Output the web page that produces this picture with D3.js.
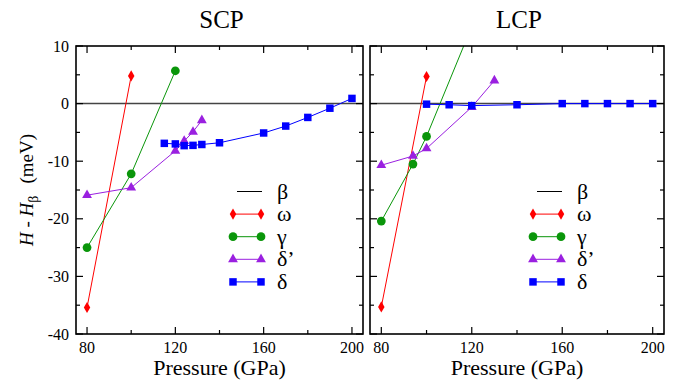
<!DOCTYPE html>
<html lang="en">
<head>
<meta charset="utf-8">
<title>SCP / LCP enthalpy</title>
<script src="https://cdn.jsdelivr.net/npm/d3@7"></script>
<style>
  body { margin: 0; background: #fff; }
  svg text { font-family: "Liberation Serif", "DejaVu Serif", serif; fill: #000; }
</style>
</head>
<body>
<script>
// data (pressure in GPa, H - H_beta in meV)
var scpOmega = [[80, -35.4], [100, 4.8]];
var scpGamma = [[80, -25.0], [100, -12.2], [120, 5.7]];
var scpDeltaP = [[80, -15.9], [100, -14.6], [120, -8.2], [124, -6.5], [128, -4.9], [132, -2.9]];
var scpDelta = [[115, -6.9], [120, -7.0], [124, -7.3], [128, -7.25], [132, -7.1], [140, -6.8],
                [160, -5.1], [170, -3.9], [180, -2.4], [190, -0.8], [200, 0.9]];

var lcpOmega = [[80, -35.3], [100, 4.7]];
var lcpGamma = [[80, -20.4], [94, -10.5], [100, -5.7], [120, 13.4]];
var lcpDeltaP = [[80, -10.7], [94, -9.1], [100, -7.8], [120, -0.6], [130, 4.0]];
var lcpDelta = [[100, -0.1], [110, -0.2], [120, -0.35], [140, -0.2], [160, 0], [170, 0],
                [180, 0], [190, 0], [200, 0]];

var xTicks = [80, 100, 120, 140, 160, 180, 200];
var xLabels = [80, 120, 160, 200];
var yTicks = [10, 5, 0, -5, -10, -15, -20, -25, -30, -35, -40];
var yLabels = [10, 0, -10, -20, -30, -40];

var legendNames = ["β", "ω", "γ", "δ’", "δ"];

var W = 681, H = 384;
var svg = d3.select("body").append("svg").attr("width", W).attr("height", H);

var series = [
  {name: "ω", color: "#ff0000", sym: d3.symbolDiamond, size: 36},
  {name: "γ", color: "#0a960a", sym: d3.symbolCircle, size: 60},
  {name: "δ’", color: "#9a20e0", sym: d3.symbolTriangle, size: 42},
  {name: "δ", color: "#0000ff", sym: d3.symbolSquare, size: 56}
];

var panels = [
  {title: "SCP", left: 76, right: 363, data: [scpOmega, scpGamma, scpDeltaP, scpDelta], yLab: true, legX: 233},
  {title: "LCP", left: 370, right: 664, data: [lcpOmega, lcpGamma, lcpDeltaP, lcpDelta], yLab: false, legX: 533}
];
var plotTop = 46, plotBottom = 334;

var y = d3.scaleLinear().domain([10, -40]).range([plotTop, plotBottom]);

panels.forEach(function(p, pi) {
  var x = d3.scaleLinear().domain([75, 205]).range([p.left, p.right]);
  var g = svg.append("g");
  var clipId = "clip" + pi;
  svg.append("clipPath").attr("id", clipId).append("rect")
    .attr("x", p.left).attr("y", plotTop).attr("width", p.right - p.left).attr("height", plotBottom - plotTop);

  // beta reference line
  g.append("line")
    .attr("x1", p.left).attr("x2", p.right)
    .attr("y1", y(0)).attr("y2", y(0))
    .attr("stroke", "#444").attr("stroke-width", 1.5);

  var line = d3.line().x(function(d) { return x(d[0]); }).y(function(d) { return y(d[1]); });
  var plot = g.append("g").attr("clip-path", "url(#" + clipId + ")");

  p.data.forEach(function(pts, si) {
    var s = series[si];
    plot.append("path").datum(pts)
      .attr("d", line).attr("fill", "none")
      .attr("stroke", s.color).attr("stroke-width", 1);
    plot.selectAll(".m" + si).data(pts).enter().append("path")
      .attr("transform", function(d) { return "translate(" + x(d[0]) + "," + y(d[1]) + ")"; })
      .attr("d", d3.symbol().type(s.sym).size(s.size))
      .attr("fill", s.color);
  });

  // frame
  g.append("rect")
    .attr("x", p.left).attr("y", plotTop).attr("width", p.right - p.left).attr("height", plotBottom - plotTop)
    .attr("fill", "none").attr("stroke", "#000").attr("stroke-width", 1.6);

  // ticks (inside, on all four sides)
  xTicks.forEach(function(t) {
    var len = xLabels.indexOf(t) >= 0 ? 7 : 4;
    g.append("line").attr("x1", x(t)).attr("x2", x(t)).attr("y1", plotBottom).attr("y2", plotBottom - len)
      .attr("stroke", "#000").attr("stroke-width", 1.2);
    g.append("line").attr("x1", x(t)).attr("x2", x(t)).attr("y1", plotTop).attr("y2", plotTop + len)
      .attr("stroke", "#000").attr("stroke-width", 1.2);
  });
  xLabels.forEach(function(t) {
    g.append("text").attr("x", x(t)).attr("y", plotBottom + 19)
      .attr("text-anchor", "middle").attr("font-size", 16).text(t);
  });
  yTicks.forEach(function(t) {
    var len = yLabels.indexOf(t) >= 0 ? 7 : 4;
    g.append("line").attr("x1", p.left).attr("x2", p.left + len).attr("y1", y(t)).attr("y2", y(t))
      .attr("stroke", "#000").attr("stroke-width", 1.2);
    g.append("line").attr("x1", p.right).attr("x2", p.right - len).attr("y1", y(t)).attr("y2", y(t))
      .attr("stroke", "#000").attr("stroke-width", 1.2);
  });
  if (p.yLab) {
    yLabels.forEach(function(t) {
      g.append("text").attr("x", p.left - 7).attr("y", y(t) + 5.5)
        .attr("text-anchor", "end").attr("font-size", 16).text(t);
    });
  }

  g.append("text").attr("x", (p.left + p.right) / 2).attr("y", plotBottom + 41)
    .attr("text-anchor", "middle").attr("font-size", 22).text("Pressure (GPa)");
  g.append("text").attr("x", (p.left + p.right) / 2 + 2).attr("y", 28)
    .attr("text-anchor", "middle").attr("font-size", 25).text(p.title);

  // legend
  var lx = p.legX, ly0 = 191.5, dy = 22.6;
  legendNames.forEach(function(n, i) {
    var ly = ly0 + i * dy;
    if (i === 0) {
      g.append("line").attr("x1", lx + 4).attr("x2", lx + 29).attr("y1", ly).attr("y2", ly)
        .attr("stroke", "#000").attr("stroke-width", 1);
    } else {
      var s = series[i - 1];
      g.append("line").attr("x1", lx).attr("x2", lx + 28).attr("y1", ly).attr("y2", ly)
        .attr("stroke", s.color).attr("stroke-width", 1);
      [lx, lx + 28].forEach(function(mx) {
        g.append("path").attr("transform", "translate(" + mx + "," + ly + ")")
          .attr("d", d3.symbol().type(s.sym).size(s.size)).attr("fill", s.color);
      });
    }
    g.append("text").attr("x", lx + 44).attr("y", ly + 7)
      .attr("font-size", 22).text(n);
  });
});

// y axis title
var yt = svg.append("text")
  .attr("transform", "translate(33," + ((plotTop + plotBottom) / 2) + ") rotate(-90)")
  .attr("text-anchor", "middle").attr("font-size", 19);
yt.append("tspan").attr("font-style", "italic").text("H");
yt.append("tspan").text(" - ");
yt.append("tspan").attr("font-style", "italic").text("H");
yt.append("tspan").attr("font-size", 14).attr("dy", 5).text("β");
yt.append("tspan").attr("dy", -5).attr("dx", 12).text("(meV)");
</script>
</body>
</html>
